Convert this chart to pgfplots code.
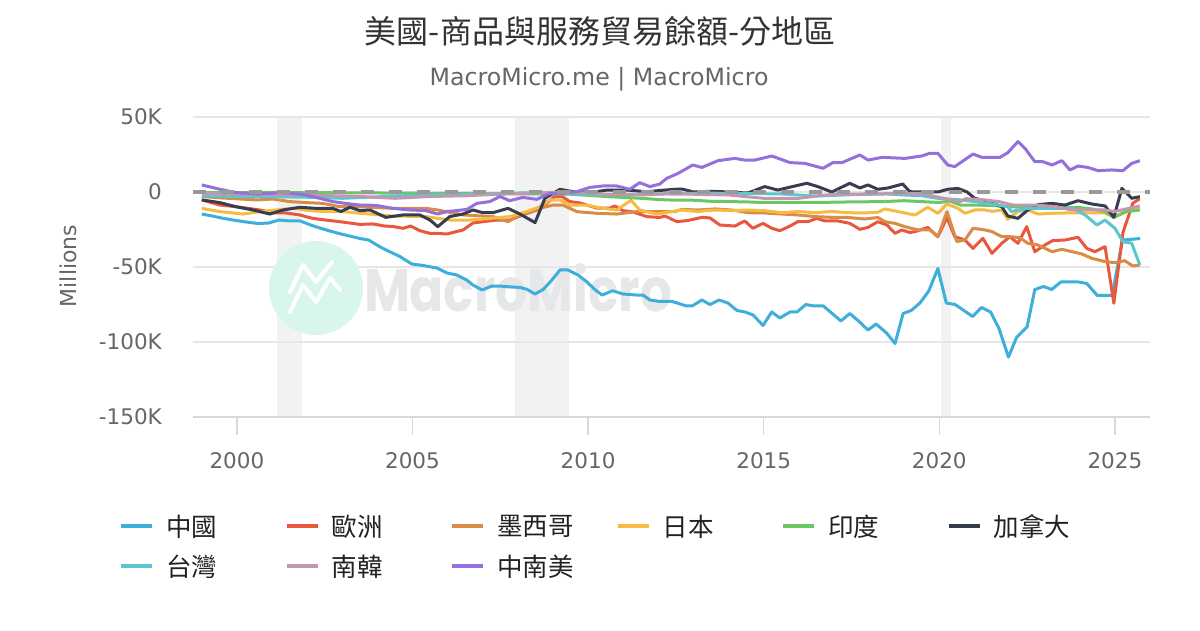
\documentclass[border=0pt]{standalone}
\usepackage{fontspec}
\setmainfont{DejaVu Sans}
\newfontfamily\cjk{Noto Sans CJK TC}
\newfontfamily\wmfont{Poppins}
\usepackage{pgfplots}
\pgfplotsset{compat=1.18}
\definecolor{cChina}{HTML}{3EAEDB}
\definecolor{cEU}{HTML}{E9573F}
\definecolor{cMX}{HTML}{D98C45}
\definecolor{cJP}{HTML}{F6BB42}
\definecolor{cIN}{HTML}{6CC663}
\definecolor{cCA}{HTML}{363D4E}
\definecolor{cTW}{HTML}{5BC6D0}
\definecolor{cKR}{HTML}{C297B0}
\definecolor{cLA}{HTML}{9370DB}
\definecolor{c333}{HTML}{333333}
\definecolor{c222}{HTML}{222222}
\definecolor{c666}{HTML}{666666}
\definecolor{cGrid}{HTML}{E6E6E6}
\definecolor{cAxis}{HTML}{D8D8D8}
\definecolor{cBand}{HTML}{F2F2F2}
\definecolor{cZero}{HTML}{999999}
\definecolor{cWM}{HTML}{D8F6EE}
\definecolor{cWMT}{HTML}{E6E7E8}
\begin{document}
\begin{tikzpicture}[x=1pt,y=1pt]
% watermark
\fill[cWM] (316,342) circle (47);
\draw[white, line width=4pt, line join=round, line cap=round] (290,318) -- (303,345) -- (316,328) -- (330,352) -- (340,340);
\draw[white, line width=4pt, line join=round, line cap=round] (290,338) -- (303,365) -- (316,348) -- (332,368);
\node[text=cWMT, font=\wmfont\bfseries, inner sep=0pt] at (518,342) {\resizebox{308pt}{48pt}{MacroMicro}};
% titles
\node[font=\cjk\fontsize{32}{38}\selectfont, text=c333] at (600,599) {美國-商品與服務貿易餘額-分地區};
\node[font=\fontsize{23.7}{28}\selectfont, text=c666] at (599,551) {MacroMicro.me | MacroMicro};
\node[rotate=90, font=\fontsize{22}{26}\selectfont, text=c666] at (68,364) {Millions};
\begin{axis}[
  at={(193pt,213pt)}, anchor=south west,
  width=957pt, height=300pt, scale only axis,
  set layers,
  xmin=1998.75, xmax=2026, ymin=-150, ymax=50,
  axis x line*=bottom, axis y line*=left,
  x axis line style={draw=cAxis, line width=1.5pt, -},
  y axis line style={draw=none},
  xtick={2000,2005,2010,2015,2020,2025},
  xticklabels={2000,2005,2010,2015,2020,2025},
  ytick={-150,-100,-50,0,50},
  yticklabels={-150K,-100K,-50K,0,50K},
  ymajorgrids, grid style={draw=cGrid, line width=1.5pt},
  tick align=outside, major tick length=18pt,
  xtick style={draw=cAxis, line width=1.5pt},
  ytick style={draw=none},
  ticklabel style={font=\fontsize{21.5}{26}\selectfont, text=c666, inner sep=0pt},
  xticklabel style={yshift=-17pt},
  yticklabel style={xshift=-13pt},
  every axis plot/.append style={line width=3pt, line join=round, no markers},
  legend columns=6,
  legend cell align=left,
  legend image code/.code={\draw[#1, line width=4pt, line cap=butt] (0pt,0pt) -- (31pt,0pt);},
  legend style={at={(axis description cs:-0.0773,-0.325)}, anchor=north west,
    draw=none, fill=none, inner sep=0pt, outer sep=0pt,
    /tikz/every odd column/.append style={column sep=12pt},
    row sep=17pt,
    nodes={inner sep=0pt},
    font=\cjk\fontsize{25.5}{30}\selectfont, text=c222},
]
% recession bands
\addplot[draw=none, fill=cBand, on layer=axis background, forget plot] coordinates {(2001.14,-150)(2001.14,50)(2001.85,50)(2001.85,-150)};
\addplot[draw=none, fill=cBand, on layer=axis background, forget plot] coordinates {(2007.92,-150)(2007.92,50)(2009.45,50)(2009.45,-150)};
\addplot[draw=none, fill=cBand, on layer=axis background, forget plot] coordinates {(2020.05,-150)(2020.05,50)(2020.33,50)(2020.33,-150)};
% China
\addplot[cChina] coordinates {(1999.0,-14.7)(1999.3,-16)(1999.6,-17.5)(1999.9,-18.7)(2000.2,-19.8)(2000.6,-21)(2000.9,-20.7)(2001.2,-18.7)(2001.5,-19.3)(2001.8,-19.3)(2002.1,-22)(2002.36,-24)(2002.65,-26)(2002.9,-27.6)(2003.2,-29.3)(2003.5,-31)(2003.75,-32)(2004.07,-36.5)(2004.35,-39.8)(2004.64,-43)(2004.98,-48)(2005.3,-49)(2005.7,-50.7)(2005.98,-54)(2006.26,-55.3)(2006.55,-58.7)(2006.72,-62)(2006.98,-65.3)(2007.26,-62.7)(2007.5,-62.7)(2007.78,-63.3)(2008.06,-63.6)(2008.26,-64.9)(2008.49,-68)(2008.72,-65)(2008.97,-58.7)(2009.2,-52)(2009.43,-52)(2009.71,-55.3)(2009.96,-59.8)(2010.19,-65)(2010.4,-68.7)(2010.7,-65.8)(2010.99,-68)(2011.39,-68.7)(2011.56,-68.7)(2011.76,-72)(2012.04,-73)(2012.4,-73)(2012.8,-76)(2012.96,-76)(2013.24,-72)(2013.47,-75)(2013.73,-72)(2013.98,-74)(2014.24,-79)(2014.47,-80)(2014.7,-82)(2014.98,-89)(2015.23,-80)(2015.46,-84)(2015.75,-80)(2015.95,-80)(2016.2,-75)(2016.43,-76)(2016.7,-76)(2016.9,-80)(2017.2,-86)(2017.45,-81)(2017.7,-86)(2017.97,-92)(2018.2,-88)(2018.5,-94)(2018.74,-101)(2018.97,-81)(2019.2,-79)(2019.45,-74)(2019.7,-66)(2019.96,-51)(2020.2,-74)(2020.45,-75)(2020.7,-79)(2020.95,-83)(2021.2,-77)(2021.46,-80)(2021.7,-91)(2021.97,-110)(2022.2,-97)(2022.5,-90)(2022.72,-65)(2022.97,-63)(2023.2,-65)(2023.46,-60)(2023.74,-60)(2023.97,-60)(2024.2,-61)(2024.5,-69)(2024.72,-69)(2024.92,-69)(2025.22,-32)(2025.5,-31.5)(2025.72,-31)};
\addlegendentry{\makebox[118.5pt][l]{中國}}
% Europe
\addplot[cEU] coordinates {(1999.0,-5.3)(1999.52,-8.7)(1999.97,-9.8)(2000.26,-10.7)(2000.65,-12)(2001.03,-13.8)(2001.40,-14)(2001.79,-15.3)(2002.16,-17.6)(2002.53,-18.7)(2002.93,-19.8)(2003.22,-20.7)(2003.50,-21.6)(2003.87,-21.3)(2004.21,-22.7)(2004.44,-23)(2004.73,-24.2)(2004.95,-22.7)(2005.21,-25.8)(2005.50,-27.6)(2005.72,-27.6)(2005.98,-28)(2006.44,-25.3)(2006.72,-20.7)(2007.00,-19.8)(2007.40,-18.7)(2007.77,-18.7)(2008.14,-15.3)(2008.54,-12)(2008.83,-7.3)(2009.05,-3)(2009.25,-3)(2009.48,-6.4)(2009.77,-7.3)(2010.25,-10.7)(2010.62,-10.7)(2010.76,-9.3)(2010.99,-12.4)(2011.28,-13.3)(2011.67,-16.4)(2012.04,-17)(2012.19,-16)(2012.53,-19.8)(2012.84,-19)(2013.24,-16.9)(2013.47,-17.3)(2013.75,-22)(2014.18,-22.7)(2014.46,-19.3)(2014.69,-24.2)(2014.98,-20.9)(2015.23,-24.2)(2015.46,-25.8)(2015.75,-22.7)(2015.97,-19.8)(2016.26,-19.8)(2016.51,-17.6)(2016.74,-19.3)(2017.11,-19.3)(2017.45,-20.9)(2017.74,-24.9)(2017.97,-23.6)(2018.25,-19.8)(2018.51,-22)(2018.74,-27.6)(2018.93,-25.3)(2019.16,-27)(2019.31,-26.4)(2019.67,-23.6)(2019.96,-29.8)(2020.22,-17)(2020.44,-29.8)(2020.73,-32)(2020.96,-37.6)(2021.24,-30.9)(2021.50,-40.9)(2021.78,-34.2)(2022.01,-29.8)(2022.24,-34.2)(2022.49,-23.1)(2022.72,-39.8)(2023.01,-35.3)(2023.23,-32.4)(2023.58,-32)(2023.95,-30.2)(2024.20,-37.6)(2024.43,-39.8)(2024.72,-36.4)(2024.97,-74.2)(2025.23,-27)(2025.51,-7.5)(2025.71,-4.5)};
\addlegendentry{\makebox[118.5pt][l]{歐洲}}
% Mexico
\addplot[cMX] coordinates {(1999.0,-3)(1999.6,-4)(2000.57,-5.3)(2001.03,-4.7)(2001.51,-6.4)(2001.99,-7.1)(2002.45,-7.6)(2002.93,-9.8)(2003.5,-9.8)(2004.44,-10.9)(2005.38,-10.9)(2005.72,-12)(2006.44,-15.3)(2007.29,-16.4)(2007.72,-19.8)(2008.06,-15.3)(2008.63,-10.9)(2009.0,-8.7)(2009.28,-8.7)(2009.68,-13.1)(2010.25,-14.2)(2010.82,-14.7)(2011.39,-13.1)(2012.13,-13.1)(2012.47,-13)(2012.67,-11.6)(2013.13,-12)(2013.61,-11.3)(2014.09,-12)(2014.55,-13.8)(2015.03,-14)(2015.52,-14.7)(2015.97,-15.3)(2016.46,-16.4)(2016.94,-16.9)(2017.40,-17)(2017.88,-18)(2018.25,-17)(2018.45,-19.8)(2018.74,-20.9)(2019.02,-23.1)(2019.39,-25.3)(2019.73,-25.3)(2019.96,-29.8)(2020.22,-13.1)(2020.50,-33.1)(2020.73,-32)(2020.96,-24.2)(2021.30,-25.3)(2021.50,-26.4)(2021.78,-29.8)(2022.01,-29.8)(2022.29,-30.4)(2022.52,-34.2)(2022.81,-35.3)(2023.21,-39.8)(2023.49,-38.2)(2023.78,-39.8)(2024.06,-41.3)(2024.34,-44.2)(2024.72,-46.4)(2025.0,-47.1)(2025.28,-45.8)(2025.51,-49.3)(2025.71,-48.7)};
\addlegendentry{\makebox[118.5pt][l]{墨西哥}}
% Japan
\addplot[cJP] coordinates {(1999.0,-10.9)(1999.52,-13.1)(2000.17,-14.7)(2000.65,-13.1)(2001.11,-12)(2001.59,-10.9)(2002.08,-12.4)(2002.53,-13.1)(2003.0,-13)(2003.5,-14.2)(2004.44,-16)(2005.38,-16.4)(2006.06,-18.7)(2006.63,-18.7)(2007.20,-17.6)(2007.77,-16.4)(2008.26,-13)(2008.63,-9.8)(2008.91,-5.3)(2009.20,-5.3)(2009.48,-8.7)(2009.97,-8.7)(2010.42,-10.9)(2010.82,-12)(2011.22,-5.5)(2011.47,-12)(2011.96,-14.7)(2012.19,-13.8)(2012.67,-12)(2013.13,-13)(2013.61,-12)(2014.09,-12.4)(2014.55,-12)(2015.03,-12.5)(2015.52,-13.8)(2015.97,-13)(2016.46,-13.8)(2016.94,-13)(2017.40,-13.8)(2017.88,-14)(2018.25,-13.5)(2018.45,-11.3)(2018.82,-13)(2019.16,-14.7)(2019.31,-15.3)(2019.67,-10.2)(2019.96,-14.2)(2020.22,-8)(2020.53,-10.9)(2020.73,-14.2)(2021.01,-12)(2021.30,-12)(2021.50,-12.9)(2021.78,-12)(2021.95,-18.2)(2022.24,-13)(2022.52,-12)(2022.81,-14.7)(2023.21,-14.2)(2023.58,-14)(2023.95,-14)(2024.34,-14)(2024.72,-14)(2024.97,-16.9)(2025.23,-13.8)(2025.71,-10.2)};
\addlegendentry{\makebox[118.5pt][l]{日本}}
% India
\addplot[cIN] coordinates {(1999.0,-0.5)(2001.0,-0.3)(2003.0,-0.5)(2005.0,-0.8)(2007.0,-1)(2008.5,-1.3)(2009.5,-1.5)(2010.0,-2.2)(2010.5,-3)(2011.0,-3.6)(2011.5,-4.2)(2012.0,-5)(2012.5,-5.5)(2013.0,-5.5)(2013.5,-6.2)(2014.0,-6.4)(2014.5,-6.6)(2015.0,-7)(2015.5,-7)(2016.0,-7)(2016.5,-7)(2017.0,-6.8)(2017.5,-6.6)(2018.0,-6.5)(2018.5,-6.3)(2019.0,-5.8)(2019.5,-6.4)(2020.0,-7)(2020.3,-6)(2020.6,-8.7)(2021.0,-8.7)(2021.5,-9)(2022.0,-9.8)(2022.5,-10.4)(2023.0,-10.9)(2023.5,-10.4)(2024.0,-10.4)(2024.34,-11.3)(2024.72,-13)(2024.97,-16.9)(2025.34,-13)(2025.71,-12)};
\addlegendentry{\makebox[118.5pt][l]{印度}}
% Canada
\addplot[cCA] coordinates {(1999.0,-5.3)(1999.52,-7.1)(1999.97,-9.8)(2000.46,-12)(2000.94,-14.7)(2001.31,-12)(2001.79,-10.2)(2002.25,-10.9)(2002.73,-10.9)(2002.96,-13)(2003.22,-10.2)(2003.50,-12.4)(2003.79,-12)(2004.24,-16.9)(2004.73,-15.3)(2005.21,-15.3)(2005.5,-18.7)(2005.72,-23.1)(2006.06,-16.4)(2006.44,-14.7)(2006.72,-12)(2007.0,-13.8)(2007.29,-13.8)(2007.72,-10.9)(2008.06,-14.7)(2008.49,-20.4)(2008.77,-4.2)(2009.20,1.8)(2009.57,0.2)(2009.97,-0.7)(2010.54,1.3)(2011.10,1.3)(2011.67,0.2)(2012.19,1.3)(2012.47,1.8)(2012.67,2)(2013.0,0)(2013.5,0.5)(2014.0,0)(2014.55,-0.7)(2015.03,3.6)(2015.40,1.3)(2015.89,4)(2016.23,5.8)(2016.54,3.6)(2016.94,0)(2017.45,5.8)(2017.74,2.7)(2017.97,4.7)(2018.25,1.8)(2018.54,2.7)(2018.96,5.3)(2019.16,0.2)(2019.5,0)(2019.96,0)(2020.24,1.8)(2020.53,2.4)(2020.79,0)(2021.01,-4.2)(2021.38,-6.4)(2021.78,-9.8)(2021.95,-16)(2022.24,-17.6)(2022.52,-12)(2022.81,-8.4)(2023.21,-7.6)(2023.58,-8.7)(2023.95,-5.8)(2024.34,-8)(2024.72,-9.3)(2024.97,-16.9)(2025.20,2.4)(2025.48,-4.2)(2025.71,-3.1)};
\addlegendentry{\makebox[118.5pt][l]{加拿大}}
% Taiwan
\addplot[cTW] coordinates {(1999.0,-2.7)(2000.5,-3)(2002.0,-3.5)(2003.0,-4.2)(2004.5,-2.7)(2005.5,-2)(2007.0,-1.3)(2008.5,-0.4)(2009.5,-1)(2010.5,-2)(2011.5,-1.5)(2012.5,-1)(2013.5,-0.8)(2014.5,-1)(2015.5,-1.3)(2016.5,-2.7)(2017.5,-1.8)(2018.5,-1.3)(2019.0,-2)(2019.5,-2.5)(2020.0,-4.4)(2020.5,-5)(2021.0,-6.4)(2021.5,-8)(2021.95,-9.8)(2022.05,-13)(2022.5,-10.9)(2023.0,-10.9)(2023.5,-10.9)(2023.8,-10.9)(2024.15,-15.3)(2024.49,-22)(2024.72,-18.7)(2025.0,-24.2)(2025.23,-33.1)(2025.48,-34.2)(2025.71,-48.7)};
\addlegendentry{\makebox[118.5pt][l]{台灣}}
% Korea
\addplot[cKR] coordinates {(1999.0,-1)(2000.5,-1.5)(2002.0,-2)(2003.5,-3)(2004.5,-4.2)(2005.5,-3)(2006.5,-2.5)(2007.5,-1.5)(2008.5,-0.5)(2009.5,0)(2010.5,-1.5)(2011.5,-2)(2012.2,-1.3)(2013.0,-1.5)(2014.0,-2)(2015.0,-4.2)(2016.0,-4.2)(2016.5,-2.7)(2017.0,-1.5)(2018.0,-1.3)(2019.0,-1)(2019.5,-1)(2020.0,-3.6)(2020.6,-6.4)(2020.75,-4.4)(2021.3,-5.3)(2021.7,-6.4)(2022.1,-8.7)(2022.8,-8.7)(2023.29,-9.8)(2023.78,-12)(2024.2,-12)(2024.72,-12)(2025.0,-13)(2025.71,-9.3)};
\addlegendentry{\makebox[118.5pt][l]{南韓}}
% Latin America
\addplot[cLA] coordinates {(1999.0,4.7)(1999.52,1.8)(1999.97,-0.4)(2000.65,-1.3)(2001.22,-0.4)(2001.59,-0.9)(2001.96,-2)(2002.36,-4.2)(2002.73,-6.4)(2003.10,-7.6)(2003.50,-8.7)(2003.96,-8.9)(2004.44,-10.9)(2004.93,-12)(2005.38,-12.4)(2005.72,-14.7)(2005.98,-13)(2006.26,-12.4)(2006.55,-11.6)(2006.83,-7.6)(2007.20,-6.4)(2007.49,-3)(2007.77,-5.8)(2008.14,-3.6)(2008.54,-4.9)(2008.91,-0.9)(2009.28,-0.9)(2009.68,0.2)(2010.05,3.1)(2010.42,4)(2010.82,4)(2011.19,1.8)(2011.47,6.2)(2011.76,3.6)(2012.04,5.3)(2012.24,9.1)(2012.56,12.4)(2012.98,18)(2013.24,16.4)(2013.70,20.9)(2014.18,22.4)(2014.46,21.3)(2014.75,21.3)(2015.23,24)(2015.75,19.6)(2016.17,19.1)(2016.69,15.8)(2016.97,19.6)(2017.23,19.6)(2017.74,24.7)(2017.97,21.3)(2018.37,23.1)(2019.02,22.4)(2019.50,24)(2019.73,25.8)(2019.96,25.8)(2020.24,18)(2020.44,16.9)(2020.96,25.3)(2021.21,23.1)(2021.73,23.1)(2021.95,26.2)(2022.24,33.6)(2022.44,29.1)(2022.72,20.2)(2022.95,20.2)(2023.21,18)(2023.49,20.9)(2023.72,14.7)(2023.95,17.3)(2024.23,16.4)(2024.52,14.2)(2024.91,14.7)(2025.23,14.2)(2025.48,19.1)(2025.71,20.9)};
\addlegendentry{\makebox[118.5pt][l]{中南美}}
% zero line
\addplot[cZero, line width=4pt, dash pattern=on 13pt off 15pt, forget plot] coordinates {(1998.75,0)(2026,0)};
\end{axis}
\pgfresetboundingbox
\useasboundingbox (0,0) rectangle (1200,630);
\end{tikzpicture}
\end{document}
